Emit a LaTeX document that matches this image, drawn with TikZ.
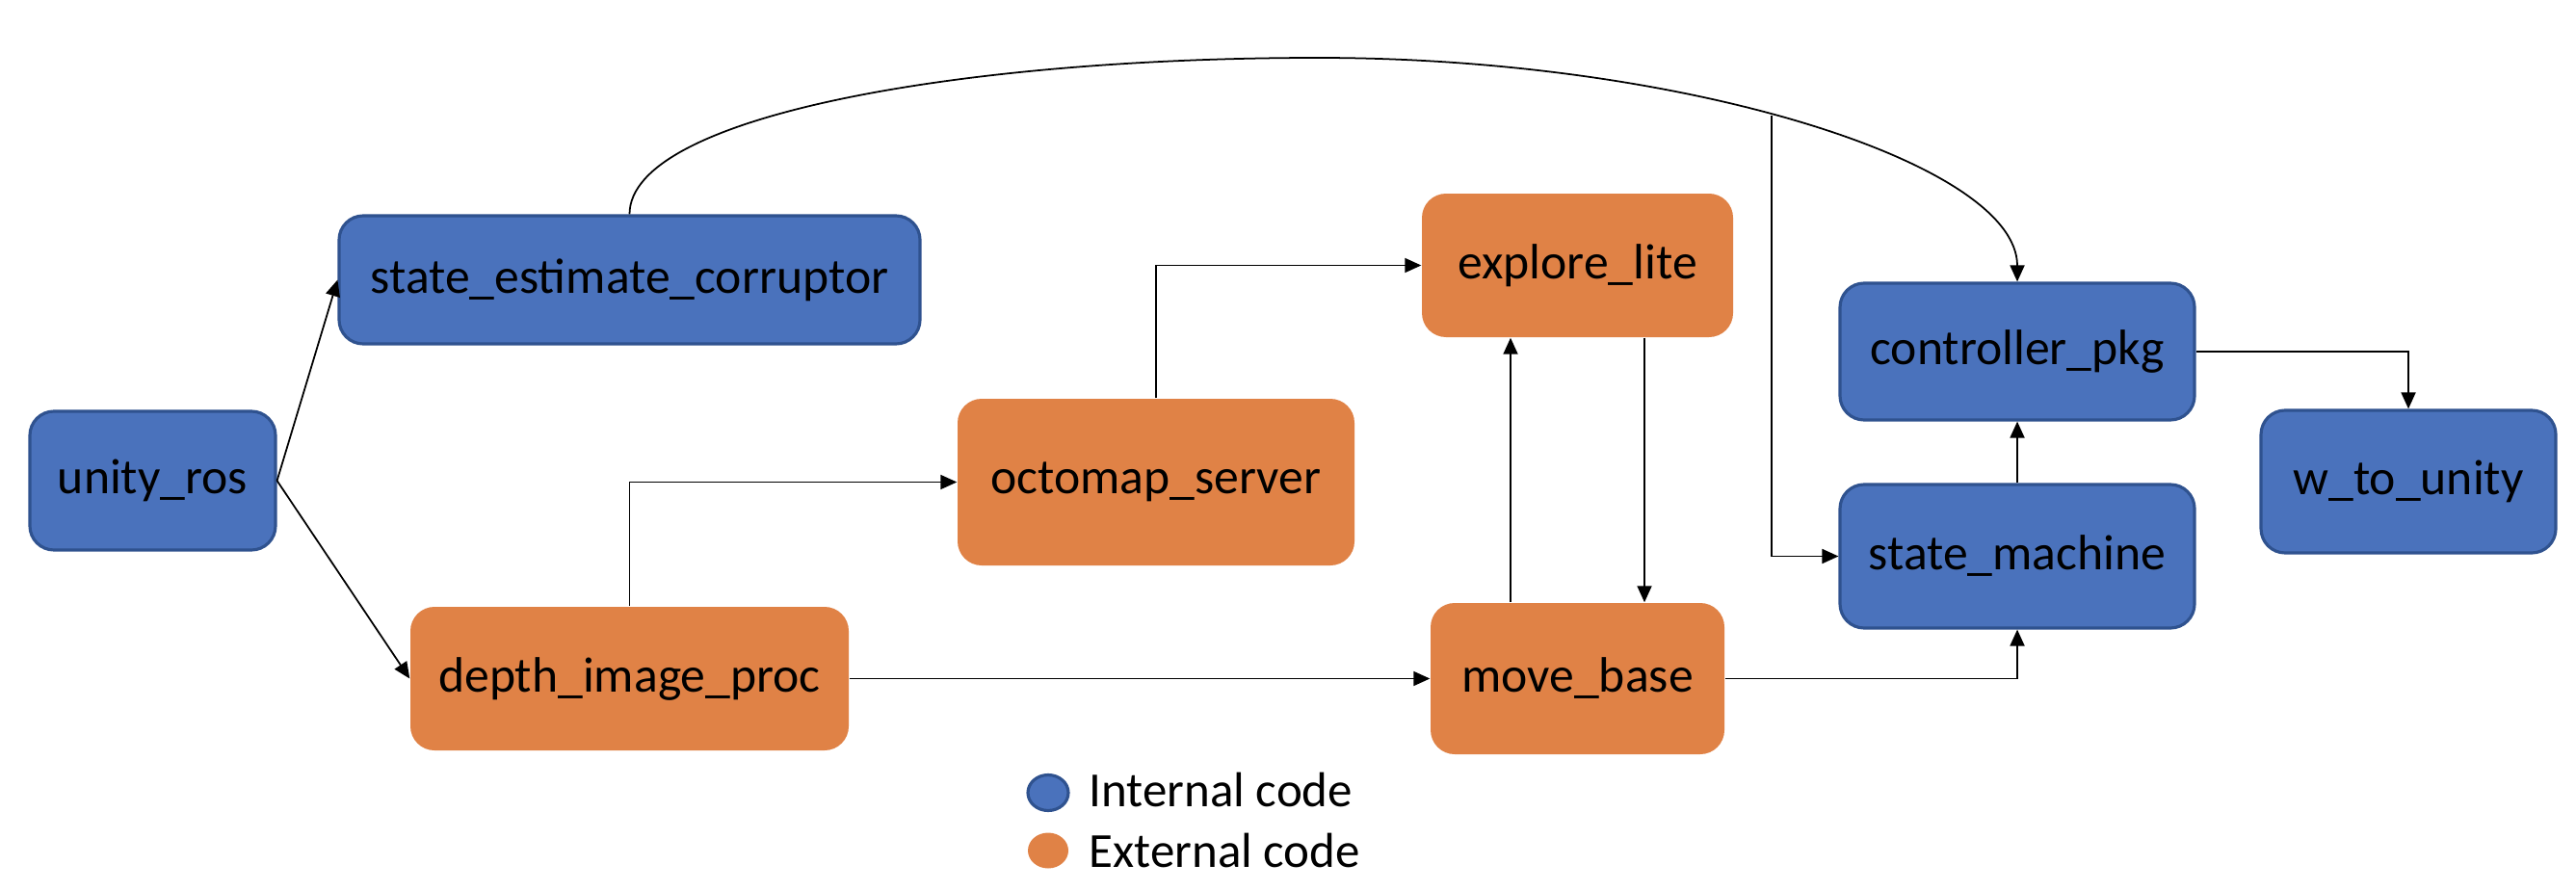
\documentclass[tikz,border=0pt]{standalone}
\usepackage{fontspec}
\setmainfont{Carlito}
\usetikzlibrary{arrows.meta,positioning,calc,shapes.geometric}
\definecolor{intblue}{RGB}{74,114,188}
\definecolor{intborder}{RGB}{47,82,143}
\definecolor{extorange}{RGB}{224,130,70}
\begin{document}
\begin{tikzpicture}[x=1cm,y=-1cm,
  box/.style={rounded corners=0.25cm, inner sep=0pt, align=center,
    font=\fontsize{14.7}{17}\selectfont},
  intbox/.style={box, fill=intblue, draw=intborder, line width=0.9pt},
  extbox/.style={box, fill=extorange},
  conn/.style={line width=0.5pt, -{Triangle[length=0.17cm,width=0.15cm]}},
  legdot/.style={ellipse, minimum width=0.42cm, minimum height=0.37cm, inner sep=0pt},
  legtext/.style={anchor=west, inner sep=0pt, font=\fontsize{14.5}{17}\selectfont}
]
\useasboundingbox (0,0) rectangle (26.74,9.24);

\node[intbox, minimum width=2.55cm, minimum height=1.44cm] (u) at (1.585,4.99) {unity\_ros};
\node[intbox, minimum width=6.03cm, minimum height=1.33cm] (sec) at (6.535,2.905) {state\_estimate\_corruptor};
\node[extbox, minimum width=4.55cm, minimum height=1.49cm] (dip) at (6.535,7.045) {depth\_image\_proc};
\node[extbox, minimum width=4.12cm, minimum height=1.73cm] (oct) at (12.0,5.005) {octomap\_server};
\node[extbox, minimum width=3.23cm, minimum height=1.49cm] (exp) at (16.375,2.755) {explore\_lite};
\node[extbox, minimum width=3.05cm, minimum height=1.57cm] (mb) at (16.375,7.045) {move\_base};
\node[intbox, minimum width=3.68cm, minimum height=1.42cm] (ctrl) at (20.94,3.65) {controller\_pkg};
\node[intbox, minimum width=3.68cm, minimum height=1.49cm] (sm) at (20.94,5.775) {state\_machine};
\node[intbox, minimum width=3.06cm, minimum height=1.48cm] (w) at (25.0,5.0) {w\_to\_unity};

\coordinate (peak) at (13.68,0.60);
\coordinate (br) at (18.39,1.20);

\draw[conn] (u.east) -- (sec.west);
\draw[conn] (u.east) -- (dip.west);
\draw[conn] (sec.north) .. controls (6.535,1.20) and (10.0,0.60) .. (peak)
  .. controls (17.5,0.60) and (20.94,1.70) .. (ctrl.north);
\draw[conn] (br) |- (sm.west);
\draw[conn] (dip.north) |- (oct.west);
\draw[conn] (oct.north) |- (exp.west);
\draw[conn] (dip.east) -- (mb.west);
\draw[conn] ([xshift=-0.695cm]mb.north) -- ([xshift=-0.695cm]exp.south);
\draw[conn] ([xshift=0.695cm]exp.south) -- ([xshift=0.695cm]mb.north);
\draw[conn] (mb.east) -| (sm.south);
\draw[conn] (sm.north) -- (ctrl.south);
\draw[conn] (ctrl.east) -| (w.north);

\node[legdot, fill=intblue, draw=intborder, line width=0.9pt] (l1) at (10.88,8.23) {};
\node[legdot, fill=extorange] (l2) at (10.88,8.83) {};
\node[legtext] (t1) at (11.30,8.20) {Internal code};
\node[legtext] (t2) at (11.30,8.83) {External code};
\end{tikzpicture}
\end{document}
